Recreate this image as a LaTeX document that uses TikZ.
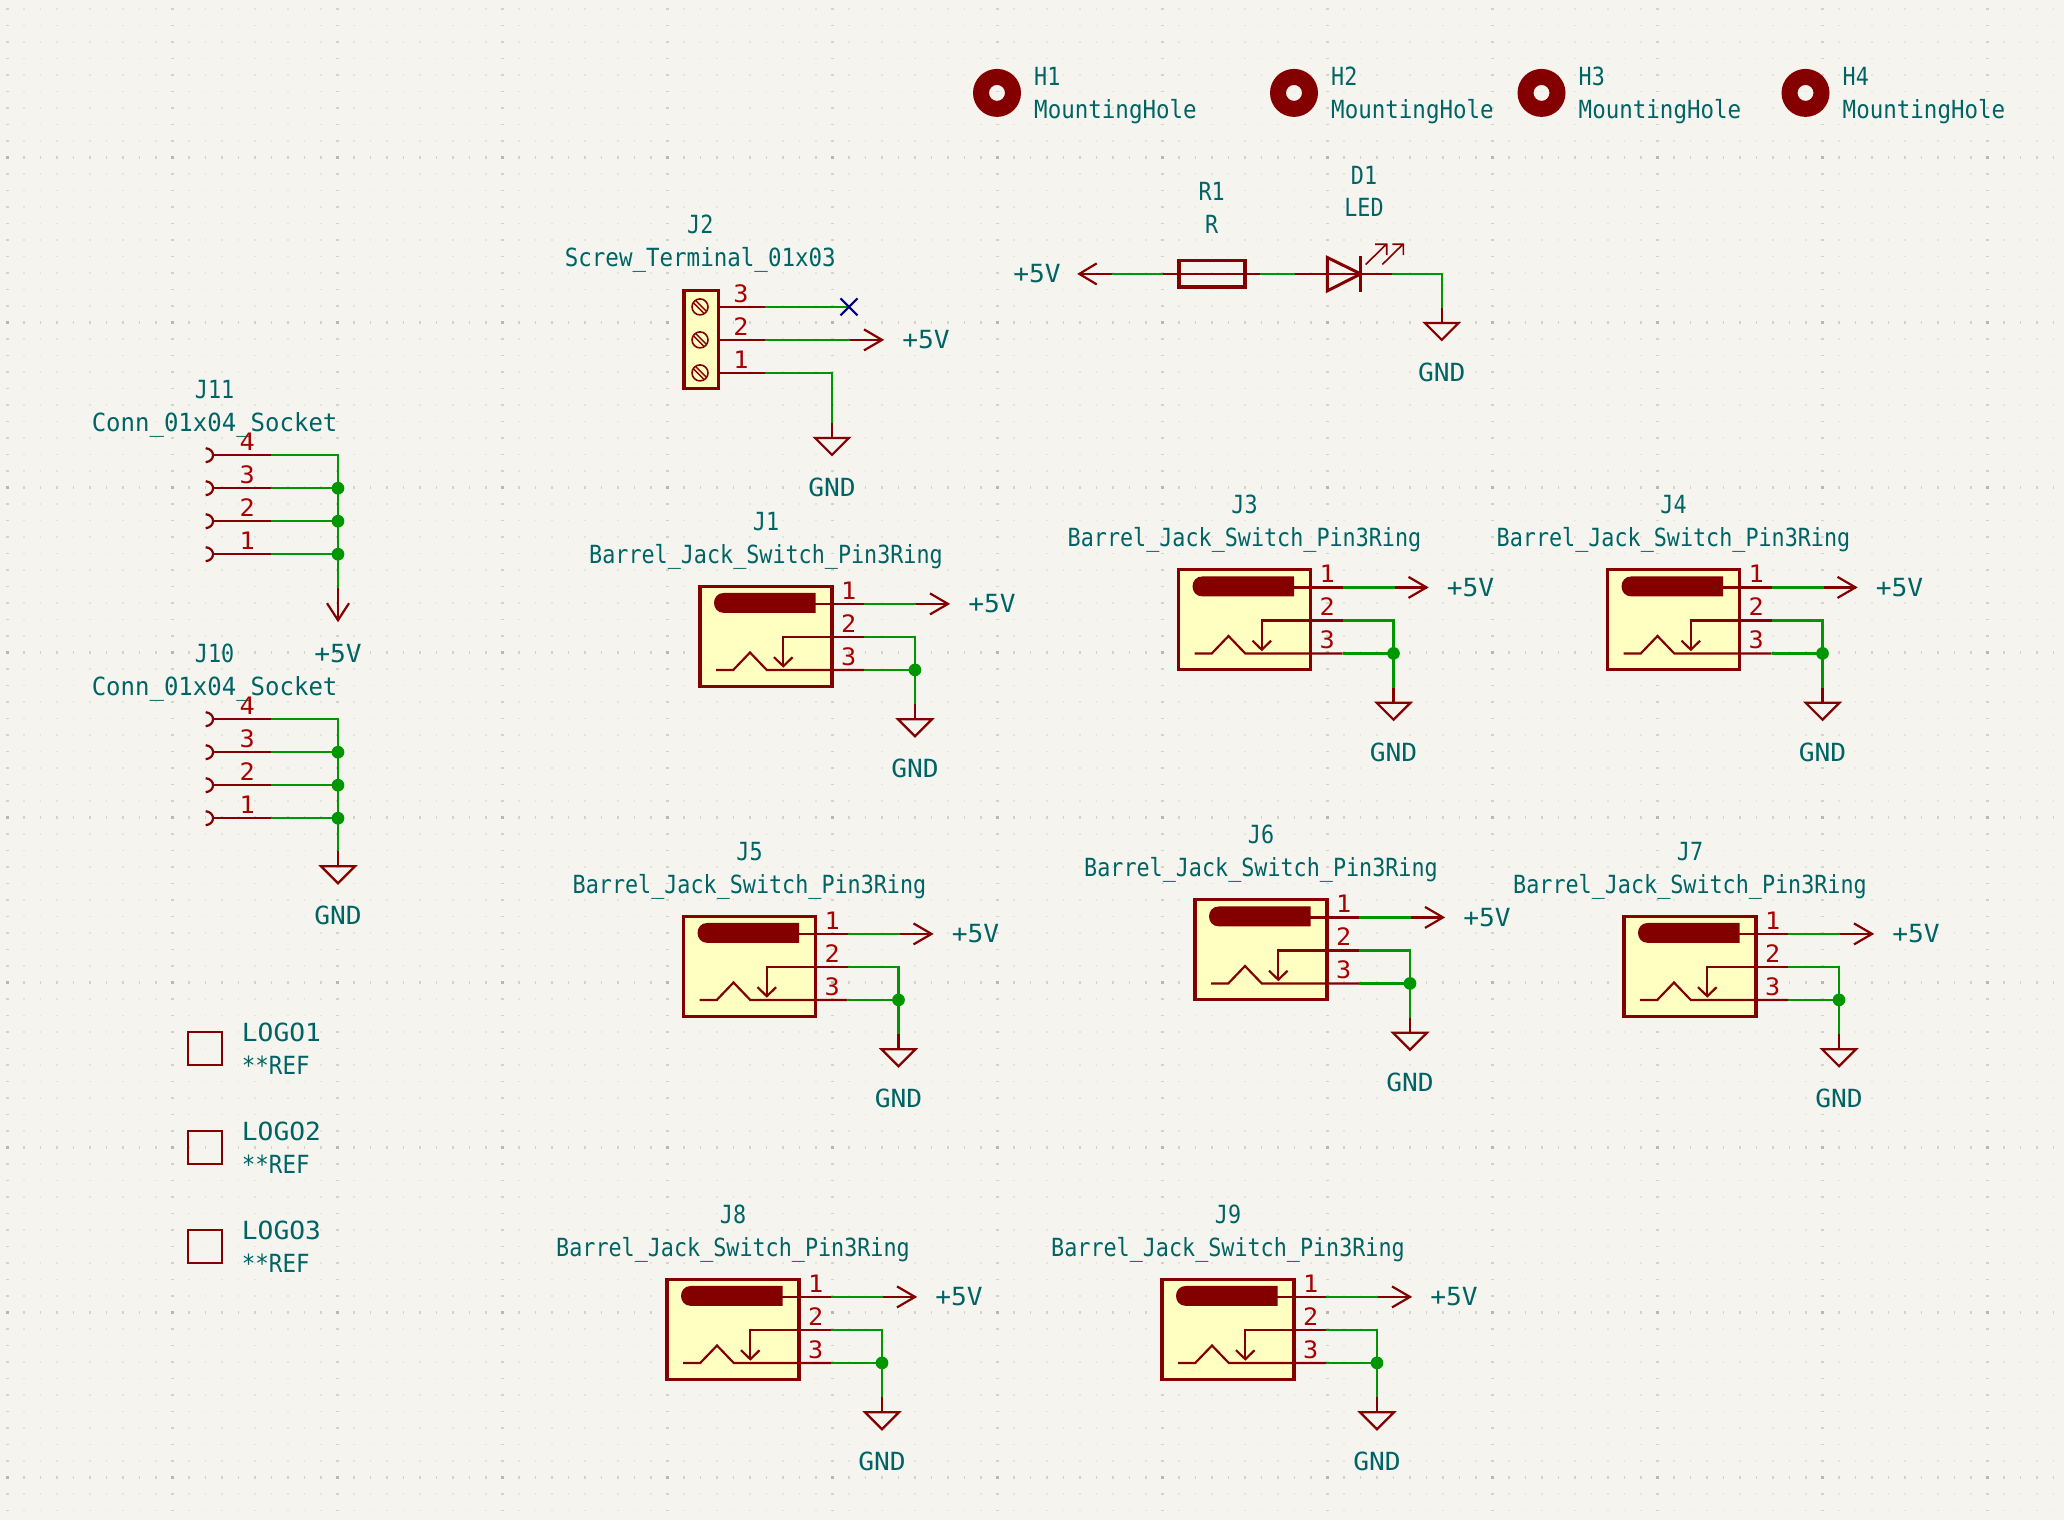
\documentclass[tikz,border=0pt]{standalone}
\usepackage{fontspec}
\setmainfont[FakeStretch=0.87]{DejaVu Sans Mono}
\newfontfamily\wideface[FakeStretch=1.05]{DejaVu Sans Mono}
\newfontfamily\midface[FakeStretch=0.96]{DejaVu Sans Mono}
\newfontfamily\slimface[FakeStretch=0.9]{DejaVu Sans Mono}
\usepackage{xcolor}
\definecolor{paper}{HTML}{F5F4EF}
\definecolor{symc}{HTML}{840000}
\definecolor{pinc}{HTML}{A90000}
\definecolor{wirec}{HTML}{009600}
\definecolor{textc}{HTML}{006464}
\definecolor{bodyc}{HTML}{FFFFC2}
\definecolor{ncc}{HTML}{000084}

\tikzset{
    lbl/.style={text=textc, inner sep=0pt, text height=18pt, text depth=0pt, font=\fontsize{25}{25}\selectfont},
    pinnum/.style={text=pinc, inner sep=0pt, text height=17pt, text depth=0pt, font=\fontsize{24}{24}\selectfont\wideface},
    wire/.style={draw=wirec, line width=2.2pt},
    pinl/.style={draw=symc, line width=2.2pt},
    body/.style={draw=symc, line width=3.3pt, fill=bodyc},
    junc/.style={shape=circle, inner sep=0pt, minimum size=12.7pt, fill=wirec},
    griddot/.style={dash pattern=on 1.3pt off 15.2pt},
}

% +5V arrow pointing right, (x,y) is where the wire ends
\newcommand{\pfive}[3]{
    \coordinate (#1) at (#2,#3);
    \begin{scope}[shift={(#2,#3)}]
        \draw[pinl] (0,0) -- (32,0);
        \draw[pinl] (14,-10.5) -- (32,0) -- (14,10.5);
        \node[lbl] (#1t) at (76,0) {\wideface +5V};
    \end{scope}
}

% ground symbol, (x,y) is where the wire ends
\newcommand{\gnd}[3]{
    \coordinate (#1) at (#2,#3);
    \begin{scope}[shift={(#2,#3)}]
        \draw[pinl] (0,0) -- (0,15);
        \draw[pinl] (-17,15) -- (17,15) -- (0,32) -- cycle;
        \node[lbl] (#1t) at (0,64.5) {\wideface GND};
    \end{scope}
}

% barrel jack with its +5V and GND, (x,y) is the top left of the box
\newcommand{\barreljack}[3]{
    \begin{scope}[shift={(#2,#3)}]
        \node[lbl] (#1r) at (66,-65) {#1};
        \node[lbl] (#1v) at (66,-32) {Barrel\_Jack\_Switch\_Pin3Ring};
        \draw[body] (0,0) rectangle (132,100);
        \fill[symc] (115.7,6.7) -- (24,6.7) .. controls (10.7,6.7) and (10.7,26.7) .. (24,26.7) -- (115.7,26.7) -- cycle;
        \draw[pinl] (115,17.7) -- (164,17.7);
        \draw[pinl] (164,50.7) -- (83.3,50.7) -- (83.3,80);
        \draw[pinl] (74,71) -- (83.3,80) -- (92.6,71);
        \draw[pinl] (16,83.7) -- (33.3,83.7) -- (50,66.3) -- (66.7,83.7) -- (164,83.7);
        \node[pinnum] (#1n1) at (148.7,4.7) {1};
        \node[pinnum] (#1n2) at (148.7,37.7) {2};
        \node[pinnum] (#1n3) at (148.7,70.7) {3};
        \coordinate (#1p1) at (164,17.7);
        \coordinate (#1p2) at (164,50.7);
        \coordinate (#1p3) at (164,83.7);
        \coordinate (#1c) at (215,50.7);
        \node[junc] (#1j) at (215,83.7) {};
        \pfive{#1v5}{216}{17.7}
        \gnd{#1g}{215}{118}
    \end{scope}
    \draw[wire] (#1p1) -- (#1v5);
    \draw[wire] (#1p2) -- (#1c) -- (#1j.center);
    \draw[wire] (#1p3) -- (#1j.center) -- (#1g);
}

% four pin socket, #2 is the y of pin 4
\newcommand{\socket}[3]{
    \node[lbl] (#1r) at (214.6,#2-65.5) {#1};
    \node[lbl] (#1v) at (214.6,#2-32.5) {\midface Conn\_01x04\_Socket};
    \begin{scope}[shift={(0,#2)}]
        \foreach \n/\k in {4/0,3/1,2/2,1/3} {
            \draw[pinl] (205.7,33*\k-7) .. controls (215.5,33*\k-6) and (215.5,33*\k+6) .. (205.7,33*\k+7);
            \draw[pinl] (213.5,33*\k) -- (271,33*\k);
            \node[pinnum] (#1n\n) at (247.3,33*\k-13) {\n};
            \coordinate (#1p\n) at (271,33*\k);
            \coordinate (#1w\n) at (338,33*\k);
        }
        \coordinate (#1e) at (338,#3);
    \end{scope}
    \draw[wire] (#1p4) -- (#1w4) -- (#1e);
    \draw[wire] (#1p3) -- (#1w3);
    \draw[wire] (#1p2) -- (#1w2);
    \draw[wire] (#1p1) -- (#1w1);
    \node[junc] (#1j3) at (#1w3) {};
    \node[junc] (#1j2) at (#1w2) {};
    \node[junc] (#1j1) at (#1w1) {};
}

% mounting hole
\newcommand{\hole}[2]{
    \fill[symc, even odd rule] (#2,92.7) circle (24) (#2,92.7) circle (8);
    \node[lbl, anchor=west] (#1r) at (#2+37,76) {#1};
    \node[lbl, anchor=west] (#1v) at (#2+37,109.3) {\slimface MountingHole};
}

% logo outline, #2 is the top of the square
\newcommand{\logo}[2]{
    \draw[symc, line width=2.2pt] (188.3,#2) rectangle (222.3,#2+33.3);
    \node[lbl, anchor=west] (#1r) at (241.7,#2+0.3) {\wideface #1};
    \node[lbl, anchor=west] (#1v) at (241.7,#2+33.3) {\slimface **REF};
}

\begin{document}
\begin{tikzpicture}[x=1pt, y=-1pt]
    \useasboundingbox (0,0) rectangle (2064,1520);
    \fill[paper] (0,0) rectangle (2064,1520);

    \begin{scope}[shift={(0,0.2)}]
    % grid
    \foreach \j in {0,...,91}
        \draw[black!7!paper, griddot, line width=1.2pt] (6.7,8.85+16.5*\j) -- (2063,8.85+16.5*\j);
    \foreach \j in {9,19,...,89}
        \draw[black!14!paper, griddot, line width=3.3pt] (6.7,8.85+16.5*\j) -- (2063,8.85+16.5*\j);
    \foreach \i in {0,10,...,120}
        \draw[black!14!paper, griddot, line width=3.3pt] (7.35+16.5*\i,8.2) -- (7.35+16.5*\i,1519);
    \foreach \j in {9,19,...,89}
        \draw[black!25!paper, dash pattern=on 3.3pt off 161.7pt, line width=3.3pt] (5.7,8.85+16.5*\j) -- (2063,8.85+16.5*\j);

    \hole{H1}{997}
    \hole{H2}{1294}
    \hole{H3}{1541.5}
    \hole{H4}{1805.5}

    % R1 and D1
    \node[lbl] (R1r) at (1211.7,191.7) {R1};
    \node[lbl] (R1v) at (1211.7,224.3) {R};
    \node[lbl] (D1r) at (1364,175) {D1};
    \node[lbl] (D1v) at (1364,207.7) {LED};
    \node[lbl] (v5l) at (1037,273.7) {\wideface +5V};
    \coordinate (v5w) at (1111.7,273.7);
    \coordinate (Rl) at (1163.3,273.7);
    \coordinate (Rr) at (1260,273.7);
    \coordinate (Dl) at (1295,273.7);
    \coordinate (Dr) at (1391.7,273.7);
    \coordinate (Dc) at (1441.7,273.7);
    \draw[pinl] (1111.7,273.7) -- (1079.3,273.7);
    \draw[pinl] (1096.7,263.2) -- (1079.3,273.7) -- (1096.7,284.2);
    \draw[pinl] (Rl) -- (Rr);
    \draw[body, fill=none] (1179,260) rectangle (1245,286.7);
    \draw[pinl] (Dl) -- (Dr);
    \draw[symc, line width=3pt, line join=miter] (1327.3,257.3) -- (1360.7,273.7) -- (1327.3,290.7) -- cycle;
    \draw[symc, line width=3pt] (1360.7,256) -- (1360.7,291.7);
    \draw[symc, line width=1.6pt] (1365.7,264.3) -- (1386.7,243.7) (1375,244) -- (1386.7,244) -- (1386.7,255);
    \draw[symc, line width=1.6pt] (1382.3,264.3) -- (1403.3,243.7) (1392.3,244) -- (1403.3,244) -- (1403.3,255);
    \gnd{D1g}{1441.7}{307.7}
    \draw[wire] (v5w) -- (Rl);
    \draw[wire] (Rr) -- (Dl);
    \draw[wire] (Dr) -- (Dc) -- (D1g);

    % J2
    \node[lbl] (J2r) at (700.3,224.5) {J2};
    \node[lbl] (J2v) at (700.3,257.5) {\slimface Screw\_Terminal\_01x03};
    \draw[body] (684,290) rectangle (718.3,388.3);
    \foreach \n/\y in {3/306.7,2/339.7,1/372.7} {
        \draw[symc, line width=1.6pt] (700,\y) circle (8);
        \draw[symc, line width=1.3pt] (694,\y-3.5) -- (703.5,\y+6) (696,\y-6) -- (706,\y+4);
        \draw[pinl] (718,\y) -- (765,\y);
        \coordinate (J2p\n) at (765,\y);
        \node[pinnum] (J2n\n) at (741,\y-13) {\n};
    }
    \coordinate (J2x) at (849,306.7);
    \coordinate (J2c) at (832,372.7);
    \draw[wire] (J2p3) -- (J2x);
    \draw[ncc, line width=2.2pt] (840.5,298.2) -- (857.5,315.2) (840.5,315.2) -- (857.5,298.2);
    \pfive{J2v5}{850}{339.7}
    \gnd{J2g}{832}{422.7}
    \draw[wire] (J2p2) -- (J2v5);
    \draw[wire] (J2p1) -- (J2c) -- (J2g);

    % sockets
    \socket{J11}{455}{132.7}
    \socket{J10}{719}{132}
    \draw[pinl] (J11e) -- (338,620);
    \draw[pinl] (327,603) -- (338,620) -- (349,603);
    \node[lbl] (J11t) at (338,653) {\wideface +5V};
    \gnd{J10g}{338}{851}

    % barrel jacks
    \barreljack{J1}{700}{586}
    \barreljack{J3}{1178.5}{569.5}
    \barreljack{J4}{1607.5}{569.5}
    \barreljack{J5}{683.5}{916}
    \barreljack{J6}{1195}{899.5}
    \barreljack{J7}{1624}{916}
    \barreljack{J8}{667}{1279}
    \barreljack{J9}{1162}{1279}

    % logos
    \logo{LOGO1}{1031.7}
    \logo{LOGO2}{1130.7}
    \logo{LOGO3}{1229.7}
    \end{scope}
\end{tikzpicture}
\end{document}
